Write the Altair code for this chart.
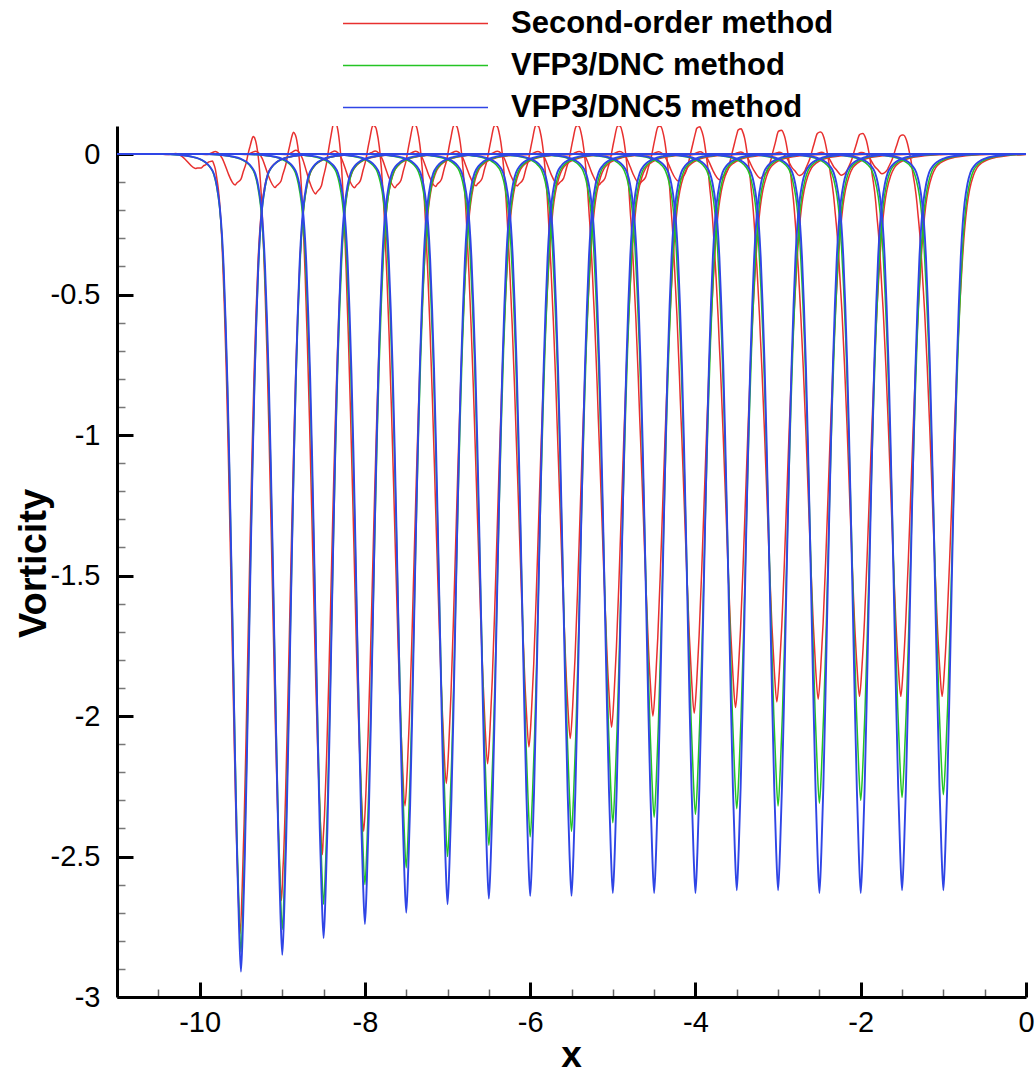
import altair as alt
import pandas as pd

# ---------------- data ----------------
methods = ["Second-order method", "VFP3/DNC method", "VFP3/DNC5 method"]
colors = ["#e8302f", "#24c424", "#2f45e6"]

# vortex centre of every plotted snapshot
centers = [-9.5, -9.0, -8.5, -8.0, -7.5, -7.0, -6.5, -6.0, -5.5, -5.0,
           -4.5, -4.0, -3.5, -3.0, -2.5, -2.0, -1.5, -1.0]
centers_2nd = [-9.51, -9.01, -8.515, -8.015, -7.515, -7.015, -6.515, -6.015, -5.515,
               -5.015, -4.515, -4.015, -3.515, -3.015, -2.515, -2.015, -1.515, -1.015]

# minimum vorticity (depth) of every snapshot
depth_dnc5 = [2.91, 2.85, 2.79, 2.74, 2.70, 2.67, 2.65, 2.64, 2.64,
              2.63, 2.63, 2.63, 2.62, 2.62, 2.63, 2.63, 2.62, 2.62]
depth_dnc = [2.84, 2.76, 2.67, 2.60, 2.54, 2.50, 2.46, 2.43, 2.41,
             2.38, 2.36, 2.35, 2.33, 2.32, 2.31, 2.30, 2.29, 2.28]
depth_2nd = [2.77, 2.65, 2.49, 2.41, 2.32, 2.24, 2.17, 2.11, 2.08,
             2.04, 2.00, 1.99, 1.97, 1.95, 1.94, 1.93, 1.93, 1.93]

# half width of each dip at half depth
halfw_dnc5 = [0.116, 0.116, 0.116, 0.116, 0.117, 0.117, 0.117, 0.117, 0.117,
              0.117, 0.117, 0.117, 0.117, 0.117, 0.117, 0.117, 0.117, 0.117]
halfw_dnc = [0.118, 0.120, 0.122, 0.124, 0.125, 0.126, 0.127, 0.128, 0.128,
             0.129, 0.129, 0.130, 0.130, 0.130, 0.130, 0.130, 0.131, 0.131]
halfw_2nd = [0.120, 0.125, 0.130, 0.133, 0.137, 0.140, 0.142, 0.145, 0.146,
             0.147, 0.148, 0.149, 0.150, 0.150, 0.150, 0.151, 0.151, 0.151]

# trailing wiggle of the second-order method: distance behind the dip and peak height
ripple_lag = [0.28, 0.30, 0.31, 0.32, 0.35, 0.36, 0.37, 0.38, 0.38,
              0.39, 0.39, 0.40, 0.43, 0.43, 0.44, 0.47, 0.46, 0.47]
ripple_peak = [-0.09, 0.03, 0.05, 0.097, 0.092, 0.097, 0.097, 0.097, 0.097,
               0.097, 0.097, 0.097, 0.097, 0.09, 0.085, 0.079, 0.073, 0.068]

# shape of one dip (distance in half-widths, fraction of depth)
profile_u = [0.0, 0.2, 0.4, 0.6, 0.8, 1.0, 1.2, 1.4, 1.6, 1.8, 2.0, 2.2, 2.5,
             2.8, 3.2, 3.7, 4.3, 5.2, 6.5, 8.2]
profile_v = [1.0, 0.945, 0.86, 0.75, 0.625, 0.50, 0.385, 0.285, 0.205, 0.14,
             0.095, 0.066, 0.04, 0.025, 0.016, 0.010, 0.006, 0.003, 0.001, 0.0]

# shape of the trailing wiggle (offset from its peak, fraction)
ripple_r = [-0.60, -0.50, -0.42, -0.34, -0.26, -0.19, -0.13, -0.08, -0.04, 0.0,
            0.04, 0.08, 0.12, 0.17, 0.23, 0.32]
ripple_v = [0.0, 0.08, -0.05, -0.40, -0.60, -0.42, 0.0, 0.50, 0.88, 1.00,
            0.92, 0.65, 0.30, 0.0, -0.18, 0.0]

x_domain = [-11.0, 0.0]
y_domain = [-3.0, 0.1]
x_tick_values = [-10.5, -10.0, -9.5, -9.0, -8.5, -8.0, -7.5, -7.0, -6.5, -6.0, -5.5,
                 -5.0, -4.5, -4.0, -3.5, -3.0, -2.5, -2.0, -1.5, -1.0, -0.5, 0.0]
y_tick_values = [-3.0, -2.9, -2.8, -2.7, -2.6, -2.5, -2.4, -2.3, -2.2, -2.1, -2.0,
                 -1.9, -1.8, -1.7, -1.6, -1.5, -1.4, -1.3, -1.2, -1.1, -1.0,
                 -0.9, -0.8, -0.7, -0.6, -0.5, -0.4, -0.3, -0.2, -0.1, 0.0]


def read_table(tx, ty, v):
    if v < tx[0] or v > tx[-1]:
        return 0.0
    for i in range(1, len(tx)):
        if v <= tx[i]:
            t = (v - tx[i - 1]) / (tx[i] - tx[i - 1])
            return ty[i - 1] + t * (ty[i] - ty[i - 1])
    return ty[-1]


rows = []
series = [
    (methods[0], centers_2nd, depth_2nd, halfw_2nd, True),
    (methods[1], centers, depth_dnc, halfw_dnc, False),
    (methods[2], centers, depth_dnc5, halfw_dnc5, False),
]
for name, cs, ds, hws, wiggle in series:
    for k in range(len(cs)):
        c, d, hw = cs[k], ds[k], hws[k]
        lag = ripple_lag[k]
        amp = 0.0
        if wiggle:
            amp = ripple_peak[k] + d * read_table(profile_u, profile_v, lag / hw)
        xs = {x_domain[0], x_domain[1]}
        for u in profile_u:
            xs.add(round(c - u * hw, 5))
            xs.add(round(c + u * hw, 5))
        if wiggle:
            for r in ripple_r:
                xs.add(round(c - lag + r, 5))
        for x in sorted(xs):
            if x < x_domain[0] or x > x_domain[1]:
                continue
            y = -d * read_table(profile_u, profile_v, abs(x - c) / hw)
            if wiggle:
                y += amp * read_table(ripple_r, ripple_v, x - (c - lag))
            rows.append({"x": x, "y": y, "method": name, "snap": k})

df = pd.DataFrame(rows)

# ---------------- chart ----------------
FONT = "Liberation Sans"
y_major = "abs(datum.value*2 - round(datum.value*2)) < 0.001"
x_major = "datum.value % 2 == 0"

x_axis = alt.Axis(
    values=x_tick_values, title="x", grid=False,
    labelExpr=f"{x_major} ? toString(datum.value) : ''",
    tickSize={"expr": f"{x_major} ? -15 : -8"},
    tickWidth={"expr": f"{x_major} ? 3 : 1.5"},
    tickColor={"expr": f"{x_major} ? 'black' : '#666666'"},
    labelPadding=26, labelFont=FONT, labelFontSize=29, labelColor="black",
    labelOverlap=False, labelFlush=False,
    domainColor="black", domainWidth=3,
    titleFont=FONT, titleFontSize=37, titleFontWeight="bold", titleColor="black",
    titleX=454, titleY=58, titleAlign="center", titleBaseline="middle",
)
y_axis = alt.Axis(
    values=y_tick_values, title="Vorticity", grid=False,
    labelExpr=f"{y_major} ? toString(datum.value) : ''",
    tickSize={"expr": f"{y_major} ? -16 : -8"},
    tickWidth={"expr": f"{y_major} ? 3 : 1.5"},
    tickColor={"expr": f"{y_major} ? 'black' : '#777777'"},
    labelPadding=33, labelFont=FONT, labelFontSize=29, labelColor="black",
    labelOverlap=False, labelFlush=False,
    domainColor="black", domainWidth=3,
    titleFont=FONT, titleFontSize=38, titleFontWeight="bold", titleColor="black",
    titleX=-83, titleY=437, titleAngle=270, titleAlign="center", titleBaseline="middle",
)
legend = alt.Legend(
    orient="none", legendX=283, legendY=-118, title=None, direction="vertical",
    symbolType="M-5,0L5,0", symbolSize=841, symbolStrokeWidth=1.5,
    labelFont=FONT, labelFontSize=31, labelFontWeight="bold", labelColor="black",
    labelOffset=80, labelLimit=0, rowPadding=10, padding=0,
)

base = alt.Chart(df).encode(
    x=alt.X("x:Q", scale=alt.Scale(domain=x_domain, nice=False, zero=False), axis=x_axis),
    y=alt.Y("y:Q", scale=alt.Scale(domain=y_domain, nice=False, zero=False), axis=y_axis),
    color=alt.Color("method:N", scale=alt.Scale(domain=methods, range=colors), legend=legend),
    detail="snap:N",
)

widths = [1.5, 1.5, 1.9]
layers = [
    base.transform_filter(alt.datum.method == m).mark_line(
        strokeWidth=w, interpolate="monotone", clip=True)
    for m, w in zip(methods, widths)
]

chart = alt.layer(*layers).properties(
    width=909, height=871,
    padding={"left": 117, "top": 126, "right": 8, "bottom": 77},
    autosize=alt.AutoSizeParams(type="none"),
    background="white",
).configure_view(stroke=None)

chart.save("out.html", embed_options={"renderer": "svg", "actions": False})
